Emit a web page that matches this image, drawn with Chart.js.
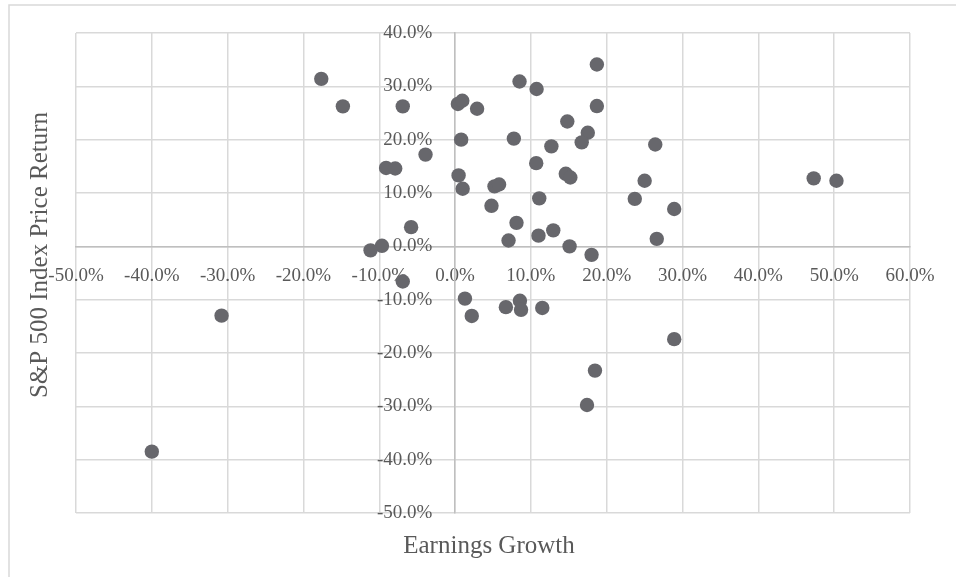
<!DOCTYPE html>
<html>
<head>
<meta charset="utf-8">
<script src="https://cdn.jsdelivr.net/npm/chart.js@4"></script>
<style>
  html, body { margin: 0; padding: 0; background: #ffffff; overflow: hidden; }
  #wrap { position: relative; width: 956px; height: 577px; }
</style>
</head>
<body>
<div id="wrap"><canvas id="chart" width="956" height="577"></canvas></div>
<script>
// earnings growth (%) and S&P 500 price return (%) per year
const earningsGrowth = [
  -17.65, -14.8, -6.9, 0.37, 0.95, 2.9, 0.8, -3.9, -9.1, -7.9,
  0.46, 1.0, -5.8, -9.65, -11.15, -6.9, -30.8, -40.0, 1.3, 2.2,
  18.7, 8.5, 10.75, 18.7, 14.8, 17.5, 16.7, 12.7, 7.75, 26.4,
  10.7, 14.6, 15.2, 5.2, 5.8, 25.0, 47.3, 50.3, 23.7, 11.1,
  28.9, 4.8, 8.1, 12.95, 11.0, 7.05, 26.6, 15.1, 18.0, 6.7,
  8.55, 8.7, 11.5, 28.9, 18.45, 17.4
];
const priceReturn = [
  31.4, 26.25, 26.25, 26.7, 27.3, 25.8, 20.0, 17.2, 14.7, 14.6,
  13.3, 10.8, 3.6, 0.1, -0.75, -6.6, -13.0, -38.5, -9.8, -13.05,
  34.1, 30.9, 29.5, 26.3, 23.4, 21.3, 19.5, 18.75, 20.2, 19.1,
  15.6, 13.6, 12.9, 11.25, 11.6, 12.3, 12.75, 12.3, 8.9, 9.0,
  7.0, 7.6, 4.4, 3.0, 2.0, 1.1, 1.4, 0.0, -1.6, -11.4,
  -10.2, -11.9, -11.55, -17.4, -23.3, -29.75
];
const xTitle = "Earnings Growth";
const yTitle = "S&P 500 Index Price Return";

const points = earningsGrowth.map((x, i) => ({ x: x, y: priceReturn[i] }));

const textColor = "#595959";
const gridColor = "#d9d9d9";
const fontFamily = "'Liberation Serif', 'Times New Roman', serif";

const frame = {
  id: "frame",
  beforeDraw(chart) {
    const ctx = chart.ctx;
    ctx.save();
    ctx.strokeStyle = gridColor;
    ctx.lineWidth = 1.5;
    ctx.strokeRect(9, 5, 1000, 1000);
    ctx.restore();
  },
  afterDraw(chart) {
    const ctx = chart.ctx;
    ctx.save();
    ctx.fillStyle = textColor;
    ctx.font = "25px " + fontFamily;
    ctx.textAlign = "center";
    ctx.textBaseline = "middle";
    ctx.fillText(xTitle, 489, 546);
    ctx.translate(40, 255);
    ctx.rotate(-Math.PI / 2);
    ctx.fillText(yTitle, 0, 0);
    ctx.restore();
  }
};

new Chart(document.getElementById("chart").getContext("2d"), {
  type: "scatter",
  data: {
    datasets: [{
      data: points,
      backgroundColor: "#67676c",
      borderWidth: 0,
      pointRadius: 7.2,
      pointHoverRadius: 7.2
    }]
  },
  options: {
    responsive: false,
    animation: false,
    events: [],
    layout: { padding: { left: 76, right: 46, top: 33, bottom: 64 } },
    plugins: { legend: { display: false }, tooltip: { enabled: false } },
    scales: {
      x: {
        type: "linear",
        position: { y: 0 },
        min: -50,
        max: 60,
        grid: { color: gridColor, lineWidth: 1.5, drawTicks: false },
        border: { color: "#bfbfbf", width: 1.5 },
        ticks: {
          stepSize: 10,
          color: textColor,
          padding: 18,
          font: { family: fontFamily, size: 19 },
          callback: v => v.toFixed(1) + "%"
        }
      },
      y: {
        type: "linear",
        position: { x: 0 },
        min: -50,
        max: 40,
        grid: { color: gridColor, lineWidth: 1.5, drawTicks: false },
        border: { color: "#bfbfbf", width: 1.5 },
        ticks: {
          stepSize: 10,
          color: textColor,
          font: { family: fontFamily, size: 19 },
          // centred axis ignores padding, so pad the label text itself
          callback: v => v.toFixed(1) + "%\u2002\u2002\u2009"
        }
      }
    }
  },
  plugins: [frame]
});
</script>
</body>
</html>
